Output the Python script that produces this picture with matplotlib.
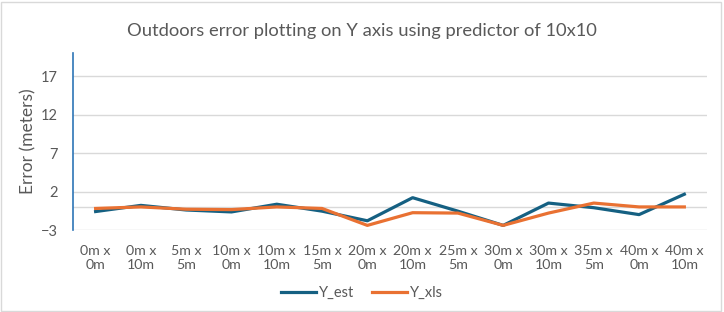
import matplotlib.pyplot as plt
from matplotlib.patches import Rectangle

categories = ["0m x\n0m", "0m x\n10m", "5m x\n5m", "10m x\n0m", "10m x\n10m", "15m x\n5m", "20m x\n0m",
              "20m x\n10m", "25m x\n5m", "30m x\n0m", "30m x\n10m", "35m x\n5m", "40m x\n0m", "40m x\n10m"]
y_est = [-0.6, 0.2, -0.4, -0.65, 0.35, -0.55, -1.8, 1.2, -0.55, -2.4, 0.5, -0.1, -1.0, 1.65]
y_xls = [-0.2, 0.0, -0.3, -0.35, 0.0, -0.2, -2.4, -0.75, -0.8, -2.4, -0.8, 0.5, 0.0, 0.0]
yticks = [-3, 2, 7, 12, 17]

plt.rcParams['font.family'] = ['Lato', 'DejaVu Sans']
txt = '#595959'

fig = plt.figure(figsize=(7.24, 3.12), dpi=100)
fig.patches.append(Rectangle((0.002, 0.004), 0.994, 0.99, transform=fig.transFigure,
                             fill=False, edgecolor='#D9D9D9', linewidth=1))
ax = fig.add_axes([0.1008, 0.2628, 0.8757, 0.5672])

x = list(range(len(categories)))
ax.plot(x, y_est, color='#156082', linewidth=2.3, label='Y_est', zorder=3)
ax.plot(x, y_xls, color='#E97132', linewidth=2.3, label='Y_xls', zorder=3)

ax.set_xlim(-0.5, len(categories) - 0.5)
ax.set_ylim(-3, 20)
ax.set_yticks(yticks)
ax.grid(axis='y', color='#D9D9D9', linewidth=1)
ax.axhline(0, color='#D9D9D9', linewidth=1, zorder=1)
ax.set_axisbelow(True)
for s in ['top', 'right', 'bottom']:
    ax.spines[s].set_visible(False)
ax.spines['left'].set_color('#2E75B6')
ax.spines['left'].set_linewidth(1.2)

ax.set_xticks(x)
ax.set_xticklabels(categories, color=txt, fontsize=10.2, linespacing=1.15)
ax.tick_params(axis='x', length=0, pad=11)
ax.tick_params(axis='y', length=0, colors=txt, labelsize=10.5, pad=11)
ax.set_ylabel("Error (meters)", color=txt, fontsize=12.5, labelpad=3)

fig.suptitle("Outdoors error plotting on Y axis using predictor of 10x10", x=0.5, y=0.925,
             color=txt, fontsize=13.2)
fig.legend(loc='center', bbox_to_anchor=(0.5, 0.06), ncol=2, frameon=False, fontsize=10.5,
           labelcolor=txt, handlelength=2.4, handletextpad=0.2, columnspacing=1.2)

plt.savefig("out.png", dpi=100)
